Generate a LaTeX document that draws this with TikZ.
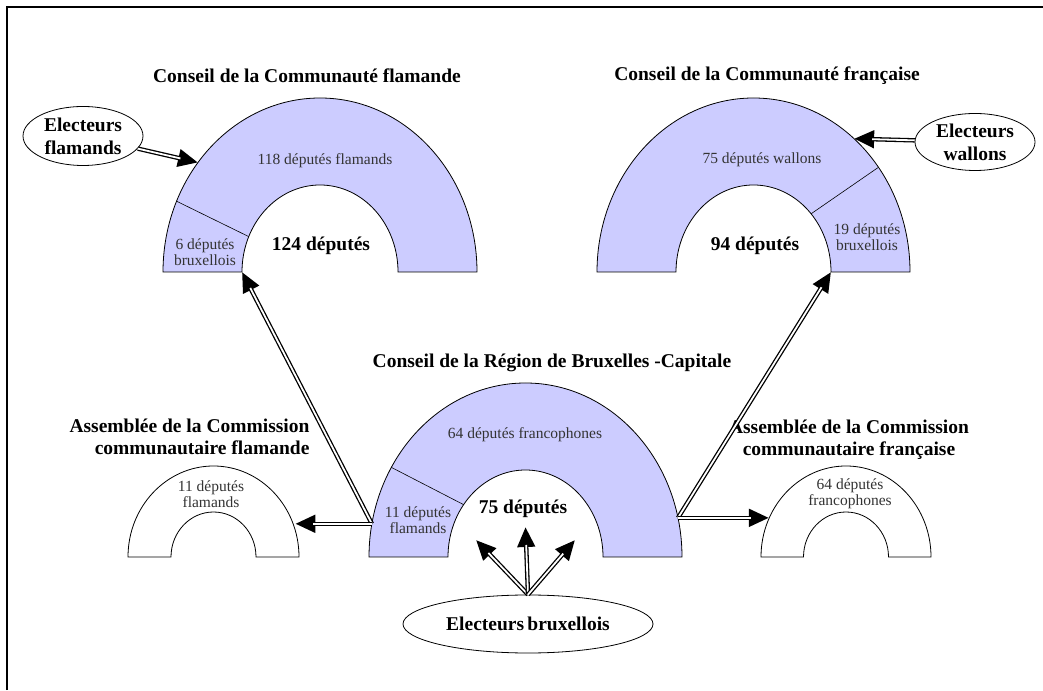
\documentclass[tikz,border=0pt]{standalone}
\usepackage{fontspec}
\setmainfont{Liberation Serif}
\usetikzlibrary{arrows.meta,calc,shapes.geometric}
\definecolor{seat}{RGB}{204,204,255}

\begin{document}
\begin{tikzpicture}[x=1pt,y=1pt,
  hemi/.style={draw,line width=0.8pt,fill=seat},
  hemiw/.style={draw,line width=0.8pt,fill=white},
  head/.style={font=\fontsize{19.5}{22}\selectfont\bfseries,align=center},
  seats/.style={font=\fontsize{15.5}{16.5}\selectfont,text=black!80,align=center},
  voters/.style={ellipse,draw,line width=0.8pt,inner sep=0pt,
    font=\fontsize{19.5}{23}\selectfont\bfseries,align=center},
  feed/.style={draw=black,line width=4.4pt,-{Triangle[length=20pt,width=17pt]},
    postaction={draw=white,line width=1.8pt,shorten >=18pt,-}}]
  \useasboundingbox (0,0) rectangle (1043,690);
  % frame
  \draw[line width=2.4pt] (7,0) -- (7,683) -- (1043,683);
  % centres of the half rings
  \coordinate (fl) at (320,418);
  \coordinate (fr) at (753.5,418);
  \coordinate (bx) at (525.5,133);
  \coordinate (cfl) at (213.5,133);
  \coordinate (cfr) at (846,133);
  % conseil flamand
  \draw[hemi] ($(fl)+(-157,0)$) arc[start angle=180,end angle=0,x radius=157pt,y radius=174pt]
    -- ($(fl)+(78,0)$) arc[start angle=0,end angle=180,x radius=78pt,y radius=87pt] -- cycle;
  \draw[line width=0.6pt] ($(fl)+(156:157pt and 174pt)$) -- ($(fl)+(156:78pt and 87pt)$);
  % conseil francais
  \draw[hemi] ($(fr)+(-156.5,0)$) arc[start angle=180,end angle=0,x radius=156.5pt,y radius=174pt]
    -- ($(fr)+(77.5,0)$) arc[start angle=0,end angle=180,x radius=77.5pt,y radius=87pt] -- cycle;
  \draw[line width=0.6pt] ($(fr)+(37:156.5pt and 174pt)$) -- ($(fr)+(42:77.5pt and 87pt)$);
  % conseil bruxellois
  \draw[hemi] ($(bx)+(-156.5,0)$) arc[start angle=180,end angle=0,x radius=156.5pt,y radius=174pt]
    -- ($(bx)+(77.5,0)$) arc[start angle=0,end angle=180,x radius=77.5pt,y radius=87pt] -- cycle;
  \draw[line width=0.6pt] ($(bx)+(149:156.5pt and 174pt)$) -- ($(bx)+(143:77.5pt and 87pt)$);
  % commissions
  \draw[hemiw] ($(cfl)+(-85.5,0)$) arc[start angle=180,end angle=0,x radius=85.5pt,y radius=91pt]
    -- ($(cfl)+(42.5,0)$) arc[start angle=0,end angle=180,x radius=42.5pt,y radius=45pt] -- cycle;
  \draw[hemiw] ($(cfr)+(-85,0)$) arc[start angle=180,end angle=0,x radius=85pt,y radius=91pt]
    -- ($(cfr)+(42.5,0)$) arc[start angle=0,end angle=180,x radius=42.5pt,y radius=45pt] -- cycle;
  % titles
  \node[head] (tfl) at (307,614) {Conseil de la Communaut\'e flamande};
  \node[head] (tfr) at (767,614) {Conseil de la Communaut\'e\ fran\c{c}aise};
  \node[head] (tbx) at (552,327) {Conseil de la R\'egion de Bruxelles -Capitale};
  \node[head,align=right,anchor=east] (tcfl) at (313,253) {Assembl\'ee de la Commission\\communautaire flamande};
  \node[head] (tcfr) at (849,250) {Assembl\'ee de la Commission\\communautaire fran\c{c}aise};
  % seats
  \node[seats] (s118) at (325,529) {118 d\'eput\'es flamands};
  \node[seats] (s6) at (205,438) {6 d\'eput\'es\\bruxellois};
  \node[head] (n124) at (321,444) {124 d\'eput\'es};
  \node[seats] (s75) at (762,530) {75 d\'eput\'es wallons};
  \node[seats] (s19) at (867,453) {19 d\'eput\'es\\bruxellois};
  \node[head] (n94) at (755,444) {94 d\'eput\'es};
  \node[seats] (s64) at (525,255) {64 d\'eput\'es francophones};
  \node[seats] (s11) at (418,170) {11 d\'eput\'es\\flamands};
  \node[head] (n75) at (523,181) {75 d\'eput\'es};
  \node[seats] (c11) at (211,196) {11 d\'eput\'es\\ flamands};
  \node[seats] (c64) at (850,196) {64 d\'eput\'es\\francophones};
  % voters
  \node[voters,minimum width=120pt,minimum height=59pt] (elfl) at (83,554) {Electeurs\\flamands};
  \node[voters,minimum width=120pt,minimum height=57pt] (elwa) at (975,548) {Electeurs\\wallons};
  \node[voters,minimum width=250pt,minimum height=58pt] (elbx) at (528,66) {Electeurs\,bruxellois};
  % arrow ends
  \coordinate (afl) at ($(fl)+(141:157pt and 174pt)$);
  \coordinate (afr) at ($(fr)+(50:156.5pt and 174pt)$);
  \coordinate (bxl) at ($(bx)+(169:156.5pt and 174pt)$);
  \coordinate (bxr) at ($(bx)+(13:156.5pt and 174pt)$);
  \coordinate (flin) at ($(fl)+(-78,0)$);
  \coordinate (frin) at ($(fr)+(77.5,0)$);
  \coordinate (cflr) at ($(cfl)+(17:85.5pt and 91pt)$);
  \coordinate (cfrl) at ($(cfr)+(155:85pt and 91pt)$);
  \coordinate (v1) at ($(bx)+(-49.5,17)$);
  \coordinate (v2) at ($(bx)+(0,30)$);
  \coordinate (v3) at ($(bx)+(49.5,17)$);
  % arrows
  \draw[feed] (elfl) -- (afl);
  \draw[feed] (elwa) -- (afr);
  \draw[feed] (bxl) -- (flin);
  \draw[feed] (bxl) -- (bxl -| cflr);
  \draw[feed] (bxr) -- (frin);
  \draw[feed] (bxr) -- (bxr -| cfrl);
  \draw[feed] (elbx.north) -- (v1);
  \draw[feed] (elbx.north) -- (v2);
  \draw[feed] (elbx.north) -- (v3);
\end{tikzpicture}
\end{document}
